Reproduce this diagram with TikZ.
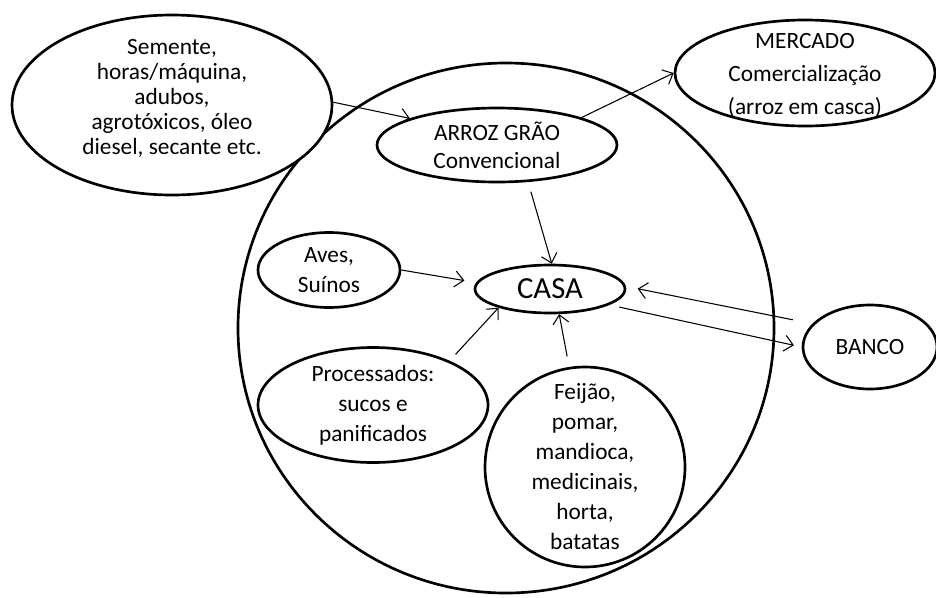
\documentclass[tikz,border=0pt]{standalone}
\usepackage{fontspec}
\setmainfont{Carlito}
\usetikzlibrary{shapes.geometric,arrows.meta}
\begin{document}
\begin{tikzpicture}[x=0.75pt,y=-0.75pt,
  ell/.style={ellipse,draw,fill=white,line width=2pt,inner sep=0pt},
  txt/.style={align=center,inner sep=0pt,font=\fontsize{17.5}{22.5}\selectfont},
  arr/.style={-{Straight Barb[length=6.5pt,width=12pt]},line width=0.8pt}]
\useasboundingbox (0,0) rectangle (936,597);
% big circle
\node[ell,minimum width=402pt,minimum height=397.5pt] (farm) at (506,328) {};
% inputs
\node[ell,minimum width=240pt,minimum height=135pt,
  label={[txt,font=\fontsize{17.5}{18.75}\selectfont,yshift=5pt]center:{Semente,\\horas/máquina,\\adubos,\\agrotóxicos, óleo\\diesel, secante etc.}}] (sem) at (172,105) {};
\node[ell,minimum width=180pt,minimum height=55.5pt,
  label={[txt,font=\fontsize{17.5}{21}\selectfont]center:{ARROZ GRÃO\\Convencional}}] (arroz) at (497,145) {};
\node[ell,minimum width=195pt,minimum height=79.5pt,
  label={[txt,font=\fontsize{17.5}{24.75}\selectfont,yshift=-2pt]center:{MERCADO\\Comercialização\\(arroz em casca)}}] (merc) at (805,73) {};
\node[ell,minimum width=112.5pt,minimum height=36pt,
  label={[txt,font=\fontsize{23}{27}\selectfont]center:{CASA}}] (casa) at (550,289) {};
\node[ell,minimum width=106.5pt,minimum height=56.25pt,
  label={[txt]center:{Aves,\\Suínos}}] (aves) at (329,270) {};
\node[ell,minimum width=172.5pt,minimum height=86.25pt,
  label={[txt]center:{Processados:\\sucos e\\panificados}}] (proc) at (373,405) {};
\node[ell,minimum width=150pt,minimum height=150pt,
  label={[txt]center:{Feijão,\\pomar,\\mandioca,\\medicinais,\\horta,\\batatas}}] (feij) at (585,467) {};
\node[ell,minimum width=100.5pt,minimum height=63pt,
  label={[txt]center:{BANCO}}] (banco) at (870,347) {};
% connectors
\draw[arr] (sem.1) -- (arroz.163);
\draw[arr] (arroz.18) -- (merc.west);
\draw[arr,shorten <=7.5pt] (arroz.-50) -- (casa.86);
\draw[arr,shorten >=9pt] (aves.east) -- (casa.175);
\draw[arr,shorten <=6.5pt] (proc.30) -- (casa.200);
\draw[arr,shorten <=8pt] (feij.99) -- (casa.-70);
\draw[arr,shorten <=15pt,shorten >=9pt] (banco.158) -- (casa.2);
\draw[arr,shorten <=7.5pt,shorten >=6pt] (casa.-15) -- (banco.west);
\end{tikzpicture}
\end{document}
